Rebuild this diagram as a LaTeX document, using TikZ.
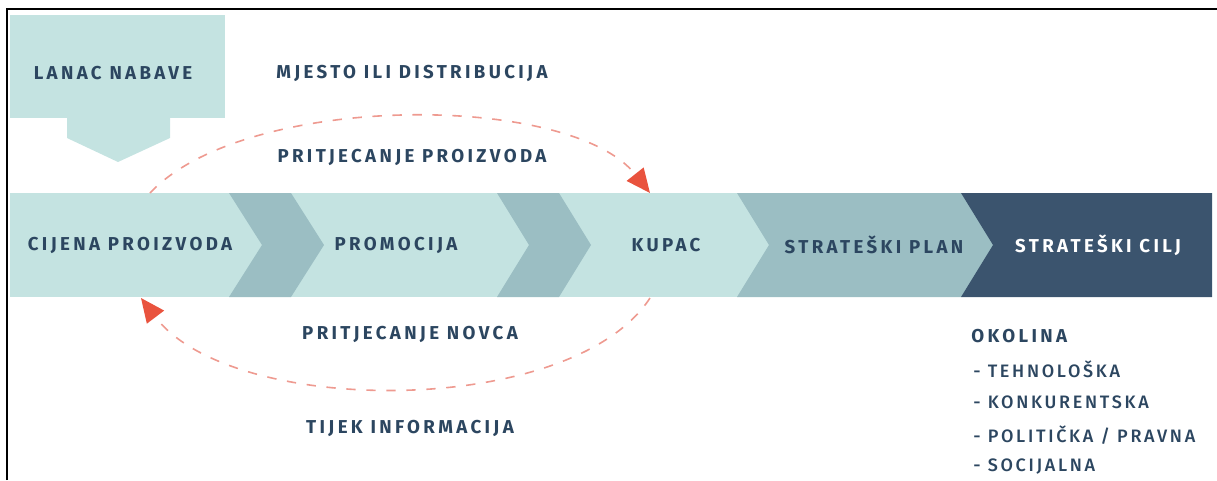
\documentclass[tikz,border=0pt]{standalone}
\usepackage{fontspec}
\setmainfont{Fira Sans}
\newfontfamily\lblfont[LetterSpace=18]{Fira Sans}
\newfontfamily\itemfont[LetterSpace=15]{Fira Sans Medium}
\usetikzlibrary{arrows.meta}
\definecolor{bandlight}{HTML}{C4E3E1}
\definecolor{bandmid}{HTML}{9BBEC3}
\definecolor{bandnavy}{HTML}{3B546E}
\definecolor{lbltext}{HTML}{2C4660}
\definecolor{flowred}{HTML}{E9533E}
\definecolor{flowdash}{HTML}{EE9A90}

\begin{document}
\begin{tikzpicture}[x=0.75pt, y=-0.75pt,
    lbl/.style={font=\lblfont\fontsize{14}{16}\selectfont\bfseries, text=lbltext, inner sep=0pt},
    item/.style={font=\itemfont\fontsize{13.5}{16}\selectfont, text=lbltext, inner sep=0pt, anchor=west},
    flow/.style={flowdash, line width=1.2pt, dash pattern=on 7pt off 8pt,
      -{Triangle[length=18pt, width=16pt, color=flowred]}}]
      \useasboundingbox (0,0) rectangle (1217,480);
      % frame
      \draw[line width=2.2pt] (7,480) -- (7,9) -- (1217,9);
      % supply chain box
      \fill[bandlight] (10,15) rectangle (225,118);
      \fill[bandlight] (67,117) -- (170,117) -- (170,138) -- (118,162) -- (67,138) -- cycle;
      % band of chevrons
      \fill[bandlight] (10,193) rectangle (1212,297);
      \fill[bandmid] (229,193) -- (291,193) -- (324,245) -- (291,297) -- (229,297) -- (262,245) -- cycle;
      \fill[bandmid] (497,193) -- (559,193) -- (591,245) -- (559,297) -- (497,297) -- (529,245) -- cycle;
      \fill[bandmid] (737,193) -- (961,193) -- (993,245) -- (961,297) -- (737,297) -- (769,245) -- cycle;
      \fill[bandnavy] (961,193) -- (1212,193) -- (1212,297) -- (961,297) -- (993,245) -- cycle;
      % labels
      \node[lbl] (nabava) at (113,73) {LANAC NABAVE};
      \node[lbl] (mjesto) at (412,73) {MJESTO ILI DISTRIBUCIJA};
      \node[lbl] (proizvod) at (412,157) {PRITJECANJE PROIZVODA};
      \node[lbl] (cijena) at (130,245) {CIJENA PROIZVODA};
      \node[lbl] (promocija) at (396,245) {PROMOCIJA};
      \node[lbl] (kupac) at (666,245) {KUPAC};
      \node[lbl] (plan) at (874,245) {STRATEŠKI PLAN};
      \node[lbl, text=white] (cilj) at (1098,245) {STRATEŠKI CILJ};
      \node[lbl] (novac) at (410,334) {PRITJECANJE NOVCA};
      \node[lbl] (info) at (410,428) {TIJEK INFORMACIJA};
      % environment list
      \node[lbl, anchor=west] (okolina) at (971,336) {OKOLINA};
      \node[item] (tehno) at (973,369) {- TEHNOLOŠKA};
      \node[item] (konk) at (973,402) {- KONKURENTSKA};
      \node[item] (pol) at (973,435) {- POLITIČKA / PRAVNA};
      \node[item] (soc) at (973,467) {- SOCIJALNA};
      % flows between price and customer
      \coordinate (prodout) at (150,193);
      \coordinate (prodin) at (650,193);
      \coordinate (cashout) at (650,298);
      \coordinate (cashin) at (141,298);
      \draw[flow] (prodout) .. controls (245,92) and (570,92) .. (prodin);
      \draw[flow] (cashout) .. controls (572,418) and (232,418) .. (cashin);
    \end{tikzpicture}
\end{document}
